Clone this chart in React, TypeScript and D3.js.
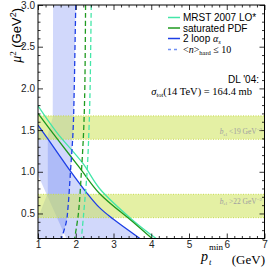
import React, { useEffect, useRef } from 'react'
import * as d3 from 'd3'

const W = 271
const H = 271

const ptTicks = [1, 2, 3, 4, 5, 6, 7]
const muTicks = [0.5, 1.0, 1.5, 2.0, 2.5, 3.0]

// solid curves: mu^2 vs pt_min
const mrstPt = [1.0, 1.5, 2.19, 2.63, 3.51, 4.13]
const mrstMu = [1.79, 1.47, 1.1, 0.8, 0.42, 0.2]
const satPt = [1.0, 1.5, 2.1, 2.63, 3.51, 4.02]
const satMu = [1.7, 1.4, 1.05, 0.74, 0.4, 0.2]
const loopPt = [1.0, 1.5, 1.84, 2.27, 2.63, 3.0, 3.7]
const loopMu = [1.56, 1.24, 1.02, 0.76, 0.57, 0.43, 0.2]

// dashed curves: <n>_hard = 10
const loopNPt = [2.0, 1.98, 1.96, 1.93, 1.86, 1.8, 1.75, 1.62]
const loopNMu = [3.0, 2.5, 2.0, 1.5, 1.0, 0.6, 0.4, 0.2]
const satNPt = [2.26, 2.24, 2.21, 2.15, 2.07, 1.97]
const satNMu = [3.0, 2.0, 1.5, 1.0, 0.5, 0.2]
const mrstNPt = [2.41, 2.38, 2.35, 2.3, 2.21, 2.15]
const mrstNMu = [3.0, 2.0, 1.5, 1.0, 0.5, 0.2]

// left edge of the <n>_hard band (bottom -> top)
const bandEdgePt = [1.0, 1.0, 1.26, 1.26, 1.39, 1.4]
const bandEdgeMu = [0.2, 0.45, 0.75, 1.45, 1.65, 3.0]
// lower-left edge of the 2 loop region
const loopEdgePt = [1.75, 1.0]
const loopEdgeMu = [0.2, 0.96]

// b_el bands
const belLo = [1.39, 0.45]
const belHi = [1.67, 0.73]

const CYAN = '#44e6a8'
const GREEN = '#1f9a1f'
const BLUE = '#1d3fe6'
const SERIF = 'Liberation Serif, serif'
const SANS = 'Liberation Sans, Arial, sans-serif'

const zip = (a: number[], b: number[]) => a.map((v, i) => [v, b[i]] as [number, number])

const App = () => {
    const ref = useRef<SVGSVGElement>(null)
    useEffect(() => {
        const svg = d3.select(ref.current)
        const x = d3.scaleLinear().domain([1, 7]).range([38, 264.5])
        const y = d3.scaleLinear().domain([0.2, 3.0]).range([238.5, 5])
        const [x0, x1] = x.range()
        const [y0, y1] = y.range()

        svg.select('#plotclip rect')
            .attr('x', x0).attr('y', y1)
            .attr('width', x1 - x0).attr('height', y0 - y1)

        const curve = d3.line<[number, number]>()
            .curve(d3.curveCatmullRom)
            .x((d) => x(d[0]))
            .y((d) => y(d[1]))
        const pts = (a: [number, number][]) => a.map((d) => `L${x(d[0])},${y(d[1])}`).join('')

        const fills = svg.select('.fills')
        // band left of <n>_hard = 10
        const bandPath = curve(zip(loopNPt, loopNMu)) + pts(zip(bandEdgePt, bandEdgeMu)) + 'Z'
        // region below the 2 loop curve
        const loopPath = curve(zip(loopPt, loopMu)) + pts(zip(loopEdgePt, loopEdgeMu)) + 'Z'
        fills.selectAll('path')
            .data([bandPath, loopPath])
            .join('path')
            .attr('d', (d) => d)
            .attr('fill', '#4862f0')
            .attr('fill-opacity', 0.25)
            .attr('stroke', 'none')

        const bands = svg.select('.bands')
        bands.selectAll('rect')
            .data(belLo)
            .join('rect')
            .attr('x', x0)
            .attr('width', x1 - x0)
            .attr('y', (d, i) => y(belHi[i]))
            .attr('height', (d, i) => y(d) - y(belHi[i]))
            .attr('fill', 'rgb(206,228,90)')
            .attr('fill-opacity', 0.55)
        const edges = belLo.concat(belHi)
        bands.selectAll('line')
            .data(edges)
            .join('line')
            .attr('x1', x0).attr('x2', x1)
            .attr('y1', (d) => y(d)).attr('y2', (d) => y(d))
            .attr('stroke', '#c8dc4c')
            .attr('stroke-width', 1)
            .attr('stroke-dasharray', '1,1.5')

        const lines = svg.select('.lines')
        const series = [
            { p: zip(mrstPt, mrstMu), c: CYAN, dash: null },
            { p: zip(satPt, satMu), c: GREEN, dash: null },
            { p: zip(loopPt, loopMu), c: BLUE, dash: null },
            { p: zip(mrstNPt, mrstNMu), c: CYAN, dash: '5,3' },
            { p: zip(satNPt, satNMu), c: GREEN, dash: '5,3' },
            { p: zip(loopNPt, loopNMu), c: BLUE, dash: '5,3' }
        ]
        lines.selectAll('path')
            .data(series)
            .join('path')
            .attr('fill', 'none')
            .attr('stroke', (d) => d.c)
            .attr('stroke-width', 1.3)
            .attr('stroke-dasharray', (d) => d.dash)
            .attr('d', (d) => curve(d.p))

        // axes, ticks pointing inwards on all four sides
        const xMinor = d3.range(10, 71, 2).map((v) => v / 10).filter((v) => !ptTicks.includes(v))
        const yMinor = d3.range(2, 31, 1).map((v) => v / 10).filter((v) => !muTicks.includes(v))
        const axes = svg.select('.axes')
        axes.selectAll('*').remove()
        const add = (ax: any, tr: string) => {
            const g = axes.append('g').attr('transform', tr).call(ax)
            g.select('.domain').remove()
            g.selectAll('line').attr('stroke', '#000').attr('stroke-width', 0.8)
            g.selectAll('text').attr('font-family', SANS).attr('font-size', 10).attr('fill', '#222')
        }
        const none = () => ''
        add(d3.axisBottom(x).tickValues(ptTicks).tickSize(-5).tickPadding(2.5).tickFormat(d3.format('d')), `translate(0,${y0})`)
        add(d3.axisBottom(x).tickValues(xMinor).tickSize(-2.5).tickFormat(none), `translate(0,${y0})`)
        add(d3.axisTop(x).tickValues(ptTicks).tickSize(-5).tickFormat(none), `translate(0,${y1})`)
        add(d3.axisTop(x).tickValues(xMinor).tickSize(-2.5).tickFormat(none), `translate(0,${y1})`)
        add(d3.axisLeft(y).tickValues(muTicks).tickSize(-5).tickPadding(3).tickFormat(d3.format('.1f')), `translate(${x0},0)`)
        add(d3.axisLeft(y).tickValues(yMinor).tickSize(-2.5).tickFormat(none), `translate(${x0},0)`)
        add(d3.axisRight(y).tickValues(muTicks).tickSize(-5).tickFormat(none), `translate(${x1},0)`)
        add(d3.axisRight(y).tickValues(yMinor).tickSize(-2.5).tickFormat(none), `translate(${x1},0)`)

        svg.select('.frame')
            .attr('x', x0).attr('y', y1)
            .attr('width', x1 - x0).attr('height', y0 - y1)
    }, [])

    const legend = [
        { c: CYAN, dash: undefined, yy: 17.5 },
        { c: GREEN, dash: undefined, yy: 28 },
        { c: BLUE, dash: undefined, yy: 38.5 },
        { c: '#7090f4', dash: '3,3', yy: 49.5 }
    ]

    return (
        <div style={{ position: 'absolute', left: 0, top: 0 }}>
            <svg ref={ref} width={W} height={H} viewBox={`0 0 ${W} ${H}`} style={{ display: 'block', background: '#fff' }}>
                <defs>
                    <clipPath id='plotclip'>
                        <rect />
                    </clipPath>
                </defs>
                <g clipPath='url(#plotclip)'>
                    <g className='fills'></g>
                    <g className='bands'></g>
                    <g className='lines'></g>
                </g>
                <g className='axes'></g>
                <rect className='frame' fill='none' stroke='#000' strokeWidth={1} />

                {/* band labels */}
                <text x={262} y={134} textAnchor='end' fontFamily={SERIF} fontSize={7.5} fill='#a0a0a0'>
                    <tspan fontStyle='italic'>b</tspan>
                    <tspan fontSize={5} dy={1.5}>el</tspan>
                    <tspan dy={-1.5}> {'<'}19 GeV</tspan>
                    <tspan fontSize={5} dy={-3}>−2</tspan>
                </text>
                <text x={262} y={203.5} textAnchor='end' fontFamily={SERIF} fontSize={7.5} fill='#a0a0a0'>
                    <tspan fontStyle='italic'>b</tspan>
                    <tspan fontSize={5} dy={1.5}>el</tspan>
                    <tspan dy={-1.5}> {'>'}22 GeV</tspan>
                    <tspan fontSize={5} dy={-3}>−2</tspan>
                </text>

                {/* legend */}
                {legend.map((l, i) => (
                    <line key={i} x1={168} x2={180} y1={l.yy} y2={l.yy} stroke={l.c} strokeWidth={1.5} strokeDasharray={l.dash} />
                ))}
                <text x={183} y={21} fontFamily={SANS} fontSize={10} fill='#000'>MRST 2007 LO*</text>
                <text x={183} y={31.5} fontFamily={SANS} fontSize={10} fill='#000'>saturated PDF</text>
                <text x={183} y={42} fontFamily={SANS} fontSize={10} fill='#000'>
                    2 loop <tspan fontFamily={SERIF} fontStyle='italic'>α</tspan>
                    <tspan fontFamily={SERIF} fontStyle='italic' fontSize={6.5} dy={2}>s</tspan>
                </text>
                <text x={183} y={53} fontFamily={SERIF} fontSize={10} fill='#000'>
                    {'<'}<tspan fontStyle='italic'>n</tspan>{'>'}
                    <tspan fontSize={6.5} dy={2}>hard</tspan>
                    <tspan dy={-2}> ≤ 10</tspan>
                </text>

                <text x={259} y={83} textAnchor='end' fontFamily={SANS} fontSize={10} fill='#000'>DL '04:</text>
                <text x={252} y={95} textAnchor='end' fontFamily={SERIF} fontSize={10.5} fill='#000'>
                    <tspan fontStyle='italic'>σ</tspan>
                    <tspan fontSize={6.5} dy={2}>tot</tspan>
                    <tspan dy={-2}>(14 TeV) = 164.4 mb</tspan>
                </text>

                {/* axis titles */}
                <text transform='translate(21,8) rotate(-90)' textAnchor='end' fontSize={13} fill='#000'>
                    <tspan fontFamily={SERIF} fontStyle='italic' fontSize={14}>μ</tspan>
                    <tspan fontFamily={SERIF} fontSize={9} dy={-5}>2</tspan>
                    <tspan fontFamily={SANS} dy={5}> (GeV</tspan>
                    <tspan fontFamily={SANS} fontSize={9} dy={-5}>2</tspan>
                    <tspan fontFamily={SANS} dy={5}>)</tspan>
                </text>
                <text x={201} y={261} fontFamily={SERIF} fontStyle='italic' fontSize={14} fill='#000'>p</text>
                <text x={209} y={265} fontFamily={SERIF} fontStyle='italic' fontSize={8.5} fill='#000'>t</text>
                <text x={209} y={250} fontFamily={SERIF} fontSize={9} fill='#000'>min</text>
                <text x={265} y={263.5} textAnchor='end' fontFamily={SERIF} fontSize={13} fill='#000'>(GeV)</text>
            </svg>
        </div>
    )
}

export default App
